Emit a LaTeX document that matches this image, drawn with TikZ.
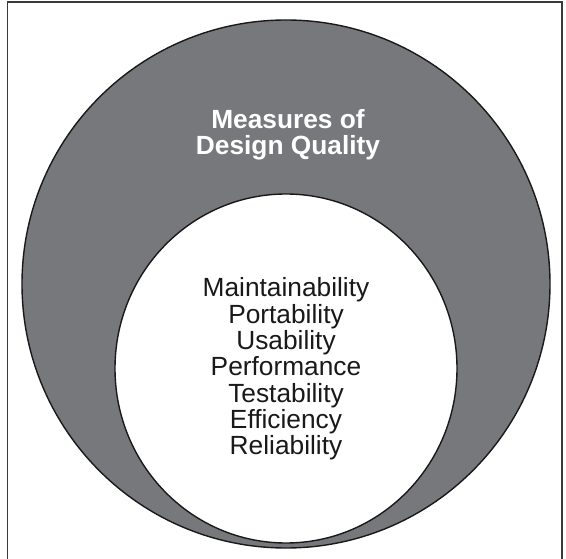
\documentclass[tikz,border=0pt]{standalone}
\usepackage{fontspec}
\setmainfont{Liberation Sans}
\definecolor{ringgray}{HTML}{77787B}
\definecolor{framegray}{HTML}{3A3A3A}
\begin{document}
\begin{tikzpicture}[x=1pt,y=1pt,
  frameline/.style={draw=framegray,line width=1.1pt},
  outerdisc/.style={fill=ringgray,draw=black!90,line width=1.4pt},
  innerdisc/.style={fill=white,draw=black!90,line width=1.4pt},
  headtext/.style={anchor=base,text=white,font=\fontsize{26.3}{27}\selectfont\bfseries,inner sep=0pt},
  itemtext/.style={anchor=base,text=black!90,font=\fontsize{26.3}{27}\selectfont,inner sep=0pt}]
\useasboundingbox (0,0) rectangle (566,558);
\draw[frameline] (7.5,-5) -- (7.5,556) -- (562,556) -- (562,-5);
\path[outerdisc] (286,274) circle[radius=264];
\path[innerdisc] (286,189.5) ellipse[x radius=171,y radius=174.5];
\node[headtext] (h1) at (288,429) {Measures of};
\node[headtext] (h2) at (288,403) {Design Quality};
\foreach \t [count=\i] in {Maintainability,Portability,Usability,Performance,Testability,Efficiency,Reliability}
  \node[itemtext] (item\i) at (286,{261-(\i-1)*26.3}) {\t};
\end{tikzpicture}
\end{document}
